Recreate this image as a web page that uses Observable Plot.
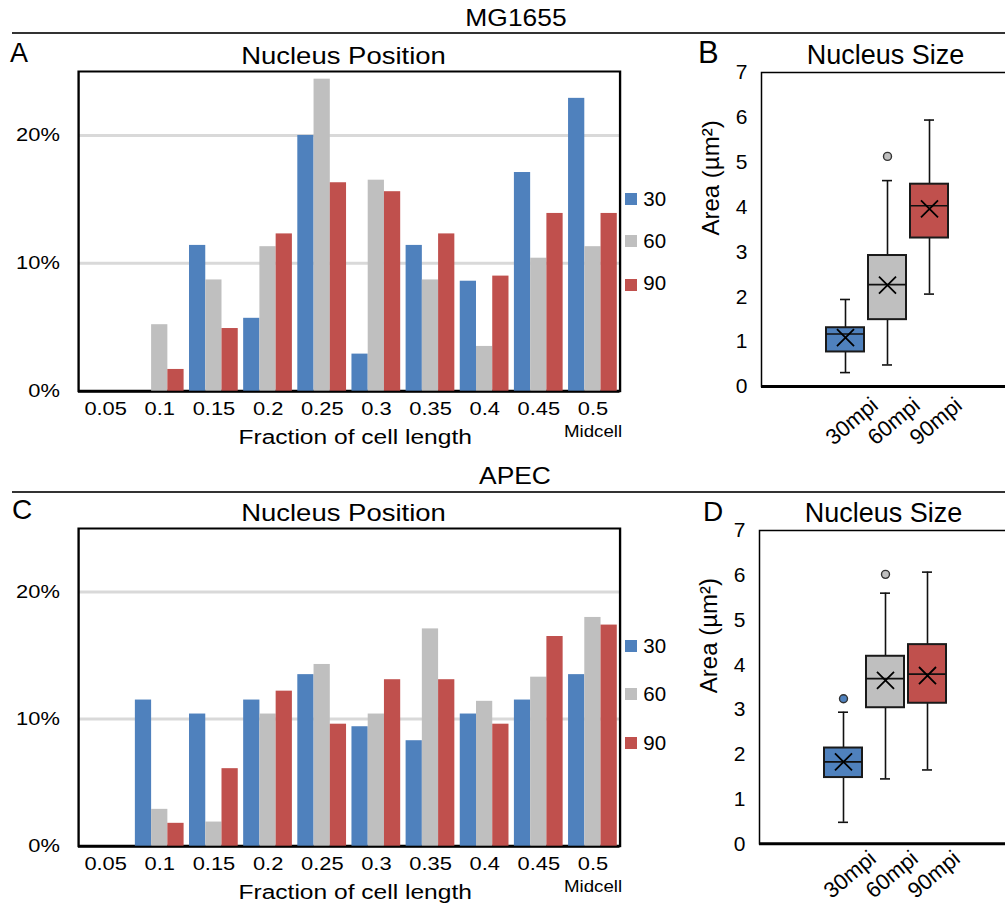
<!DOCTYPE html>
<html><head><meta charset="utf-8">
<script src="https://cdn.jsdelivr.net/npm/d3@7"></script>
<script src="https://cdn.jsdelivr.net/npm/@observablehq/plot@0.6"></script>
<style>
html,body{margin:0;padding:0;background:#fff;overflow:hidden;}
#page{position:relative;width:1005px;height:905px;overflow:hidden;font-family:"Liberation Sans",Arial,sans-serif;color:#000;background:#fff;}
.t{position:absolute;line-height:1;white-space:nowrap;}
.hr{position:absolute;height:2px;background:#333;}
.sw{position:absolute;width:12px;height:12px;}
</style></head><body><div id="page"></div>
<script>
// ---------- data ----------
const categories = ["0.05","0.1","0.15","0.2","0.25","0.3","0.35","0.4","0.45","0.5"];
const catValues = [0.05,0.1,0.15,0.2,0.25,0.3,0.35,0.4,0.45,0.5];
const series = ["30","60","90"];
const seriesColors = ["#4f81bd","#bfbfbf","#c0504d"];

// MG1655 nucleus position (% of cells)
const mgPos30 = [0, 0, 11.4, 5.7, 20.0, 2.9, 11.4, 8.6, 17.1, 22.9];
const mgPos60 = [0, 5.2, 8.7, 11.3, 24.4, 16.5, 8.7, 3.5, 10.4, 11.3];
const mgPos90 = [0, 1.7, 4.9, 12.3, 16.3, 15.6, 12.3, 9.0, 13.9, 13.9];
// APEC nucleus position (% of cells)
const apPos30 = [0, 11.5, 10.4, 11.5, 13.5, 9.4, 8.3, 10.4, 11.5, 13.5];
const apPos60 = [0, 2.9, 1.9, 10.4, 14.3, 10.4, 17.1, 11.4, 13.3, 18.0];
const apPos90 = [0, 1.8, 6.1, 12.2, 9.6, 13.1, 13.1, 9.6, 16.5, 17.4];

const boxGroups = ["30mpi","60mpi","90mpi"];
// MG1655 nucleus size (µm²)
const mgMin  = [0.31, 0.48, 2.06];
const mgQ1   = [0.77, 1.49, 3.31];
const mgMed  = [1.17, 2.27, 4.03];
const mgQ3   = [1.31, 2.92, 4.51];
const mgMax  = [1.94, 4.59, 5.94];
const mgMean = [1.09, 2.26, 3.96];
const mgOutGroup = ["60mpi"];
const mgOutValue = [5.13];
// APEC nucleus size (µm²)
const apMin  = [0.48, 1.45, 1.65];
const apQ1   = [1.48, 3.04, 3.14];
const apMed  = [1.83, 3.69, 3.79];
const apQ3   = [2.14, 4.19, 4.45];
const apMax  = [2.94, 5.60, 6.07];
const apMean = [1.83, 3.65, 3.76];
const apOutGroup = ["30mpi", "60mpi"];
const apOutValue = [3.24, 6.02];

// ---------- layout ----------
const page = document.getElementById("page");
const FONT = "'Liberation Sans', Arial, Helvetica, sans-serif";
const S = 1.17; // horizontal stretch of the position panels

function addText(txt, left, baseline, size, opts = {}) {
  const d = document.createElement("div");
  d.className = "t";
  d.textContent = txt;
  d.style.fontSize = size + "px";
  d.style.top = (baseline - 0.8465 * size) + "px";
  if (opts.center != null) {
    d.style.left = (opts.center - 200) + "px";
    d.style.width = "400px";
    d.style.textAlign = "center";
  } else {
    d.style.left = left + "px";
  }
  if (opts.stretch) {
    d.style.transform = `scaleX(${opts.stretch})`;
    d.style.transformOrigin = "50% 0";
  }
  page.appendChild(d);
  return d;
}
function place(svg, left, top, stretch) {
  svg.style.position = "absolute";
  svg.style.left = left + "px";
  svg.style.top = top + "px";
  if (stretch) {
    svg.style.transformOrigin = "0 0";
    svg.style.transform = `scaleX(${stretch})`;
  }
  page.appendChild(svg);
}

function posChart(v30, v60, v90, plotHeight) {
  const rows = [];
  [v30, v60, v90].forEach((vals, si) => vals.forEach((v, ci) => {
    rows.push({cat: catValues[ci], series: series[si], si, value: v / 100});
  }));
  const step = 0.05, group = step * 0.9, bw = group / 3;
  rows.forEach(d => { d.x1 = d.cat - group / 2 + d.si * bw; d.x2 = d.x1 + bw; });
  const labelOf = v => categories[catValues.indexOf(v)];
  const mL = 78 / S, mR = 545 - 619.5 / S, mT = 41, mB = 62;
  return Plot.plot({
    width: 545, height: mT + plotHeight + mB,
    marginLeft: mL, marginRight: mR, marginTop: mT, marginBottom: mB,
    style: {fontFamily: FONT, fontSize: "18.7px", color: "#000", background: "transparent", overflow: "visible"},
    x: {domain: [0.025, 0.525]},
    y: {domain: [0, 0.25]},
    color: {domain: series, range: seriesColors},
    marks: [
      Plot.ruleY([0.1, 0.2], {stroke: "#d9d9d9", strokeWidth: 3}),
      Plot.frame({stroke: "#000", strokeWidth: 2}),
      Plot.ruleY([0], {stroke: "#000", strokeWidth: 3}),
      Plot.rectY(rows, {x1: "x1", x2: "x2", y1: 0, y2: "value", fill: "series"}),
      Plot.axisX({ticks: catValues, tickFormat: labelOf, tickSize: 0, tickPadding: 11, label: null}),
      Plot.axisY({ticks: [0, 0.1, 0.2], tickFormat: d3.format(".0%"), tickSize: 0, tickPadding: 16, label: null}),
      Plot.text(["Nucleus Position"], {frameAnchor: "top", dy: -7.7, dx: -5, lineAnchor: "bottom", fontSize: 23.5}),
      Plot.text(["Fraction of cell length"], {frameAnchor: "bottom", dy: 53.3, dx: 5, lineAnchor: "bottom", fontSize: 21}),
      Plot.text(["Midcell"], {x: catValues[catValues.length - 1], frameAnchor: "bottom", dy: 46, lineAnchor: "bottom", fontSize: 16})
    ]
  });
}

function boxChart(mins, q1, med, q3, maxs, means, outG, outV, plotHeight, labelDy) {
  const rows = boxGroups.map((g, i) => ({group: g, min: mins[i], q1: q1[i], med: med[i], q3: q3[i], max: maxs[i], mean: means[i]}));
  const outs = outG.map((g, i) => ({group: g, value: outV[i]}));
  const mL = 121, mT = 42, mB = 70;
  return Plot.plot({
    width: 377, height: mT + plotHeight + mB,
    marginLeft: mL, marginRight: 4, marginTop: mT, marginBottom: mB,
    style: {fontFamily: FONT, fontSize: "21px", color: "#000", background: "transparent", overflow: "visible"},
    x: {domain: boxGroups, paddingInner: 0.1, paddingOuter: 1.487, axis: null},
    y: {domain: [0, 7], ticks: d3.range(0, 8)},
    color: {domain: boxGroups, range: seriesColors},
    marks: [
      Plot.frame({stroke: "#000", strokeWidth: 1.5}),
      Plot.ruleY([0], {stroke: "#000", strokeWidth: 3}),
      Plot.ruleX(rows, {x: "group", y1: "min", y2: "max", stroke: "#111", strokeWidth: 1.6}),
      Plot.tickY(rows, {x: "group", y: "min", stroke: "#111", strokeWidth: 1.6, insetLeft: 14, insetRight: 14}),
      Plot.tickY(rows, {x: "group", y: "max", stroke: "#111", strokeWidth: 1.6, insetLeft: 14, insetRight: 14}),
      Plot.barY(rows, {x: "group", y1: "q1", y2: "q3", fill: "group", stroke: "#1a1a1a", strokeWidth: 2}),
      Plot.tickY(rows, {x: "group", y: "med", stroke: "#111", strokeWidth: 1.6}),
      Plot.dot(rows, {x: "group", y: "mean", symbol: "times", r: 7.8, stroke: "#000", strokeWidth: 1.8}),
      Plot.dot(outs, {x: "group", y: "value", r: 4, fill: "group", stroke: "#333", strokeWidth: 1.4}),
      Plot.axisY({tickSize: 0, tickPadding: 14, label: null}),
      Plot.text(boxGroups, {x: d => d, frameAnchor: "bottom", dx: 34, dy: labelDy, rotate: -40, textAnchor: "end", lineAnchor: "bottom", fontSize: 22}),
      Plot.text(["Area (µm²)"], {frameAnchor: "left", dx: -43, dy: 6, rotate: -90, lineAnchor: "bottom", fontSize: 24}),
      Plot.text(["Nucleus Size"], {frameAnchor: "top", dy: -8.7, dx: -2, lineAnchor: "bottom", fontSize: 27})
    ]
  });
}

// section headers
addText("MG1655", 0, 26.7, 24, {center: 516, stretch: 1.1});
const hr1 = document.createElement("div"); hr1.className = "hr";
hr1.style.left = "12px"; hr1.style.top = "32.3px"; hr1.style.width = "993px"; page.appendChild(hr1);
addText("APEC", 0, 484, 24, {center: 515, stretch: 1.1});
const hr2 = document.createElement("div"); hr2.className = "hr";
hr2.style.left = "12px"; hr2.style.top = "490.7px"; hr2.style.width = "993px"; page.appendChild(hr2);

// charts
place(posChart(mgPos30, mgPos60, mgPos90, 319.7), 0, 30, S);
place(posChart(apPos30, apPos60, apPos90, 317.7), 0, 487, S);
place(boxChart(mgMin, mgQ1, mgMed, mgQ3, mgMax, mgMean, mgOutGroup, mgOutValue, 314, 21), 640, 30);
place(boxChart(apMin, apQ1, apMed, apQ3, apMax, apMean, apOutGroup, apOutValue, 313.3, 17), 638, 488);

// panel letters
addText("A", 10, 63, 27);
addText("B", 698, 63.3, 31);
addText("C", 12, 520, 28);
addText("D", 703, 521.7, 28);

// legends
function legend(squareTops, baselines) {
  series.forEach((s, i) => {
    const sw = document.createElement("div");
    sw.className = "sw";
    sw.style.left = "624.5px";
    sw.style.top = squareTops[i] + "px";
    sw.style.background = seriesColors[i];
    page.appendChild(sw);
    addText(s, 643.3, baselines[i], 20.5);
  });
}
legend([192.7, 234.8, 278.7], [206.7, 248.3, 290.5]);
legend([640.3, 688.3, 736.7], [653.5, 701.7, 750]);
</script>
</body></html>
